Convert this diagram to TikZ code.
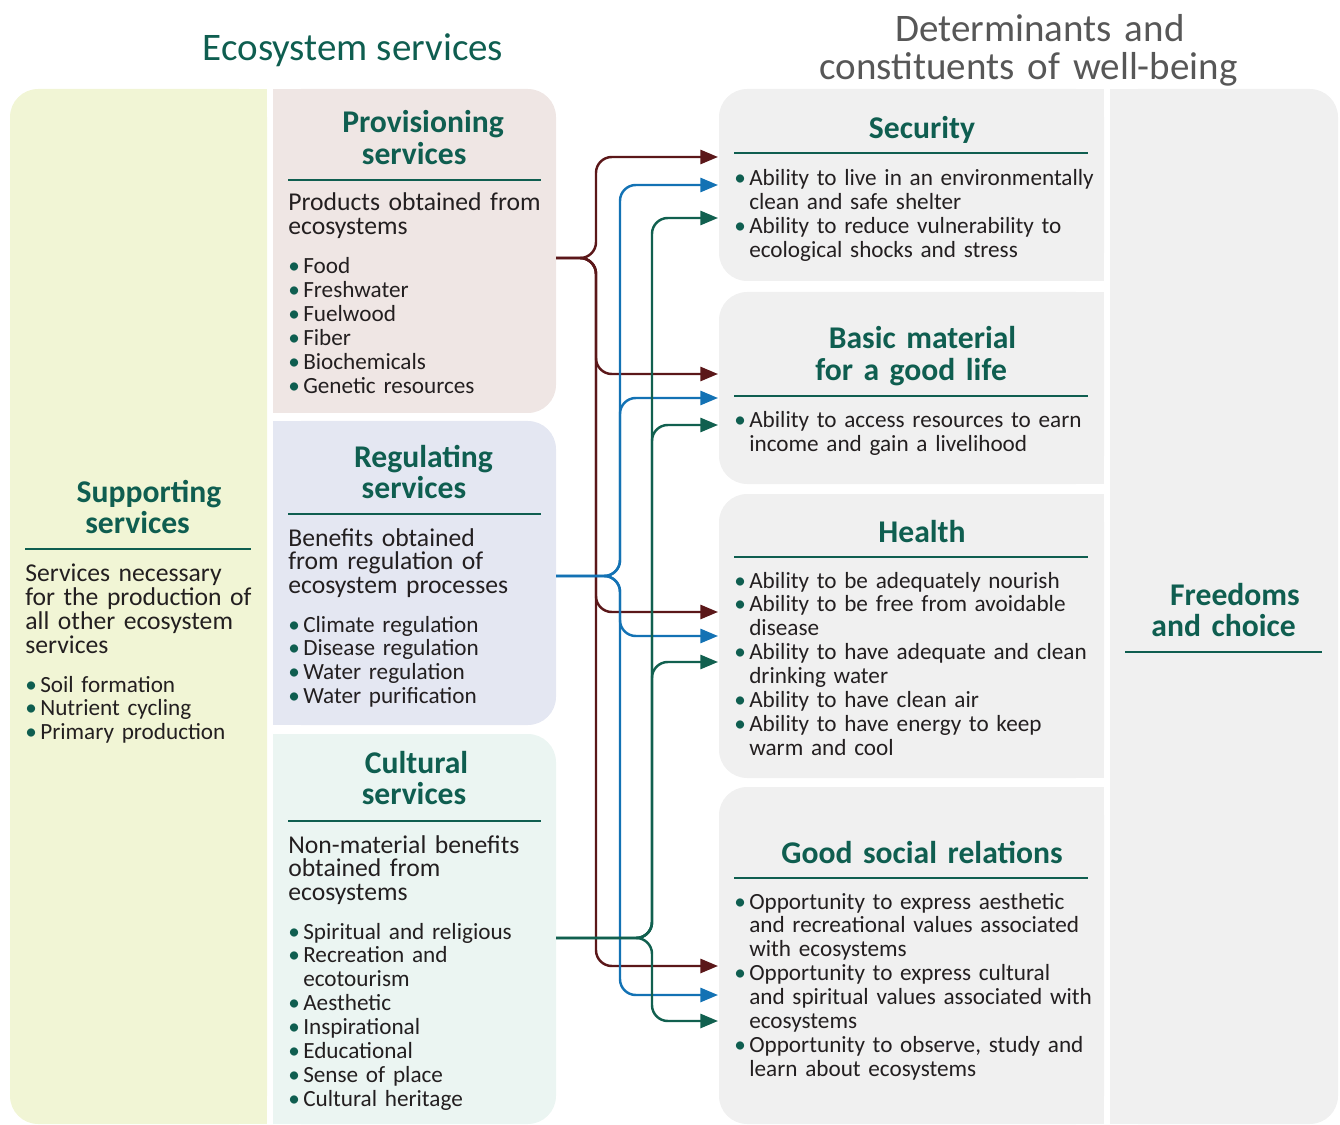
\documentclass[tikz,border=0pt]{standalone}
\usepackage{fontspec}
\setmainfont{Carlito}
\usetikzlibrary{arrows.meta}

\definecolor{ecogreen}{HTML}{0F5E50}
\definecolor{titlegray}{HTML}{575757}
\definecolor{txt}{HTML}{231F20}
\definecolor{supfill}{HTML}{F1F5D5}
\definecolor{provfill}{HTML}{EFE6E4}
\definecolor{regfill}{HTML}{E4E7F2}
\definecolor{cultfill}{HTML}{EBF5F2}
\definecolor{detfill}{HTML}{F0F0F0}
\definecolor{provline}{HTML}{5B1719}
\definecolor{regline}{HTML}{1372B4}
\definecolor{cultline}{HTML}{11604F}

\newcommand{\bodyfont}{\fontsize{13.2}{13.6}\selectfont}
\newcommand{\descfont}{\fontsize{14.6}{13.6}\selectfont}
\newcommand{\headfont}{\fontsize{18}{18.1}\selectfont\bfseries}
\newcommand{\titlefont}{\fontsize{22.2}{21.5}\selectfont}

\newlength{\bw}\setlength{\bw}{8.5pt}
\newcommand{\bul}{\makebox[\bw][l]{\textcolor{ecogreen}{\textbullet}}}
\newcommand{\ind}{\hspace*{\bw}}

\begin{document}
\begin{tikzpicture}
    [%%%%%%%%%%%%%%%%%%%%%%%%%%%%%%
        x=0.02cm, y=-0.02cm,
        head/.style={font=\headfont, text=ecogreen, align=center, text width=7cm, inner sep=0pt, anchor=base},
        body/.style={font=\bodyfont, text=txt, align=left, text width=7.5cm, inner sep=0pt, anchor=base west},
        desc/.style={body, font=\descfont},
        sep/.style={ecogreen, line width=0.8pt},
        link/.style={line width=1.4pt, rounded corners=9pt, -{Triangle[length=10pt,width=8pt]}},
    ]%%%%%%%%%%%%%%%%%%%%%%%%%%%%%%

\useasboundingbox (0,0) rectangle (1340,1125);

% boxes
\fill[supfill, rounded corners=16pt] (10,89) rectangle (267,1124);
\fill[supfill] (140,89) rectangle (267,1124);
\fill[provfill, rounded corners=16pt] (273,89) rectangle (556,413);
\fill[provfill] (273,89) rectangle (400,413);
\fill[regfill, rounded corners=16pt] (273,421) rectangle (556,725);
\fill[regfill] (273,421) rectangle (400,725);
\fill[cultfill, rounded corners=16pt] (273,734) rectangle (556,1124);
\fill[cultfill] (273,734) rectangle (400,1124);
\foreach \ya/\yb in {89/281, 292/484, 494/778, 787/1124}{
    \fill[detfill, rounded corners=16pt] (719,\ya) rectangle (1104,\yb);
    \fill[detfill] (900,\ya) rectangle (1104,\yb);
}
\fill[detfill, rounded corners=16pt] (1110,89) rectangle (1338,1124);
\fill[detfill] (1110,89) rectangle (1200,1124);

% titles
\node[font=\titlefont, text=ecogreen, inner sep=0pt, anchor=base] (eco-title) at (353,61) {Ecosystem services};
\node[font=\titlefont, text=titlegray, align=center, text width=10cm, inner sep=0pt, anchor=base] (wb-title) at (1040,42)
    {Determinants and\\ \hspace*{-13pt}constituents of well-being};

% supporting
\node[head] (sup-head) at (149,502) {Supporting\\ \hspace*{-13pt}services};
\draw[sep] (25,549) -- (251,549);
\node[desc] (sup-text) at (25,582) {Services necessary\\ for the production of\\ all other ecosystem\\ services};
\node[body] (sup-list) at (25,692) {\bul Soil formation\\ \bul Nutrient cycling\\ \bul Primary production};

% provisioning
\node[head] (prov-head) at (423,133) {Provisioning\\ \hspace*{-10pt}services};
\draw[sep] (288,180) -- (541,180);
\node[desc] (prov-text) at (288,211) {Products obtained from\\ ecosystems};
\node[body] (prov-list) at (288,274) {\bul Food\\ \bul Freshwater\\ \bul Fuelwood\\ \bul Fiber\\ \bul Biochemicals\\ \bul Genetic resources};

% regulating
\node[head] (reg-head) at (423.5,467) {Regulating\\ \hspace*{-10.8pt}services};
\draw[sep] (288,514) -- (541,514);
\node[desc] (reg-text) at (288,546) {Benefits obtained\\ from regulation of\\ ecosystem processes};
\node[body] (reg-list) at (288,632) {\bul Climate regulation\\ \bul Disease regulation\\ \bul Water regulation\\ \bul Water purification};

% cultural
\node[head] (cult-head) at (416.5,773) {Cultural\\ \hspace*{-2.8pt}services};
\draw[sep] (288,821) -- (541,821);
\node[desc] (cult-text) at (288,853) {Non-material benefits\\ obtained from\\ ecosystems};
\node[body] (cult-list) at (288,939) {\bul Spiritual and religious\\ \bul Recreation and\\ \ind ecotourism\\ \bul Aesthetic\\ \bul Inspirational\\ \bul Educational\\ \bul Sense of place\\ \bul Cultural heritage};

% security
\node[head] (sec-head) at (922,139) {Security};
\draw[sep] (734,153) -- (1088,153);
\node[body] (sec-list) at (734,186) {\bul Ability to live in an environmentally\\ \ind clean and safe shelter\\ \bul Ability to reduce vulnerability to\\ \ind ecological shocks and stress};

% basic material
\node[head] (bas-head) at (922.5,349) {Basic material\\ \hspace*{-13pt}for a good life};
\draw[sep] (734,396) -- (1088,396);
\node[body] (bas-list) at (734,428) {\bul Ability to access resources to earn\\ \ind income and gain a livelihood};

% health
\node[head] (hea-head) at (922,542) {Health};
\draw[sep] (734,557) -- (1088,557);
\node[body] (hea-list) at (734,588) {\bul Ability to be adequately nourish\\ \bul Ability to be free from avoidable\\ \ind disease\\ \bul Ability to have adequate and clean\\ \ind drinking water\\ \bul Ability to have clean air\\ \bul Ability to have energy to keep\\ \ind warm and cool};

% good social relations
\node[head] (soc-head) at (922,863) {Good social relations};
\draw[sep] (734,878) -- (1088,878);
\node[body] (soc-list) at (734,909) {\bul Opportunity to express aesthetic\\ \ind and recreational values associated\\ \ind with ecosystems\\ \bul Opportunity to express cultural\\ \ind and spiritual values associated with\\ \ind ecosystems\\ \bul Opportunity to observe, study and\\ \ind learn about ecosystems};

% freedoms
\node[head] (free-head) at (1235,605) {Freedoms\\ \hspace*{-13pt}and choice};
\draw[sep] (1125,652) -- (1322,652);

% arrows
\coordinate (prov-out) at (556,258);
\coordinate (reg-out) at (556,576);
\coordinate (cult-out) at (556,938);
\coordinate (prov-split) at (596,258);
\coordinate (reg-split) at (620,576);
\coordinate (cult-split) at (652,938);
\foreach \t/\ya/\yb/\yc in {sec/157/185/218, bas/374/398/425, hea/612/636/662, soc/966/995/1021}{
    \coordinate (\t-in1) at (718,\ya);
    \coordinate (\t-in2) at (718,\yb);
    \coordinate (\t-in3) at (718,\yc);
}
\foreach \t in {sec,bas,hea,soc}
    \draw[link, provline] (prov-out) -- (prov-split) |- (\t-in1);
\foreach \t in {sec,bas,hea,soc}
    \draw[link, regline] (reg-out) -- (reg-split) |- (\t-in2);
\foreach \t in {sec,bas,hea,soc}
    \draw[link, cultline] (cult-out) -- (cult-split) |- (\t-in3);
\end{tikzpicture}
\end{document}
